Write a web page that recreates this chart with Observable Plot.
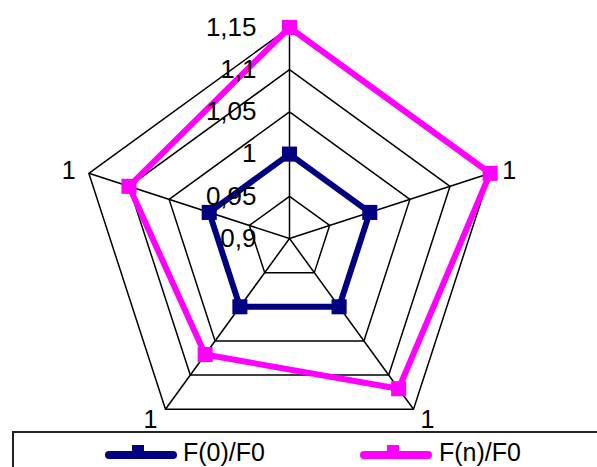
<!DOCTYPE html>
<html><head><meta charset="utf-8">
<script src="https://cdn.jsdelivr.net/npm/d3@7"></script>
<script src="https://cdn.jsdelivr.net/npm/@observablehq/plot@0.6"></script>
<style>
body{margin:0;width:597px;height:467px;overflow:hidden;background:#fff;font-family:"Liberation Sans",Arial,sans-serif;position:relative}
#chart{position:absolute;left:0;top:0}
#legend{position:absolute;left:12px;top:431px;width:620px;height:60px;border-top:2px solid #222;border-left:2px solid #222;}
.sw{position:absolute;top:445px}
.lt{position:absolute;top:440px;font-size:25px;line-height:25px;color:#000;white-space:nowrap}
</style></head><body>
<div id="chart"></div>
<div id="legend"></div>
<script>
// Data
const axes = ["", "1", "1", "1", "1"];            // clockwise from top
const ticks = [0.9, 0.95, 1, 1.05, 1.1, 1.15];
const tickLabels = ["0,9", "0,95", "1", "1,05", "1,1", "1,15"];
const seriesNames = ["F(0)/F0", "F(n)/F0"];
const f0Values = [1, 1, 1, 1, 1];
const fnValues = [1.15, 1.15, 1.12, 1.07, 1.10];
const seriesColors = ["#000080", "#ff00ff"];

// Styling / layout
const labelOffsets = [[0, 0], [19, -2], [14, 11], [-15, 11], [-20, -2]];
const W = 597, H = 432, R = 211, CX = 289, CY = 238;

const rmin = ticks[0], rmax = ticks[ticks.length - 1];
const rad = d3.scaleLinear().domain([rmin, rmax]).range([0, 1]);
const n = axes.length;
const ang = i => Math.PI / 2 - i * 2 * Math.PI / n;
const px = (v, i) => rad(v) * Math.cos(ang(i));
const py = (v, i) => rad(v) * Math.sin(ang(i));

const ringPts = ticks.slice(1).flatMap(t => d3.range(n + 1).map(k => ({t, i: k % n})));
const seriesData = [f0Values, fnValues];
const linePts = seriesData.flatMap((vals, s) => d3.range(n + 1).map(k => ({s: seriesNames[s], v: vals[k % n], i: k % n})));
const dotPts = seriesData.flatMap((vals, s) => vals.map((v, i) => ({s: seriesNames[s], v, i})));

const marks = [
  Plot.line(ringPts, {x: d => px(d.t, d.i), y: d => py(d.t, d.i), z: "t", stroke: "#000", strokeWidth: 1.5}),
  Plot.link(d3.range(n), {x1: () => 0, y1: () => 0, x2: i => px(rmax, i), y2: i => py(rmax, i), stroke: "#000", strokeWidth: 1.5}),
  Plot.line(linePts, {x: d => px(d.v, d.i), y: d => py(d.v, d.i), z: "s", stroke: "s", strokeWidth: 6, strokeLinejoin: "miter"}),
  Plot.dot(dotPts, {x: d => px(d.v, d.i), y: d => py(d.v, d.i), fill: "s", symbol: "square", r: 8.5, stroke: "none"}),
  Plot.text(ticks, {x: () => 0, y: t => rad(t), text: (t, k) => tickLabels[k], textAnchor: "end", dx: -33, fontSize: 26, fill: "#000"}),
  ...axes.map((a, i) => Plot.text([i], {x: j => px(rmax, j), y: j => py(rmax, j), text: j => axes[j], dx: labelOffsets[i][0], dy: labelOffsets[i][1], fontSize: 25, fill: "#000"}))
];

const chart = Plot.plot({
  width: W, height: H,
  marginTop: 0, marginBottom: 0, marginLeft: 0, marginRight: 0,
  x: {domain: [-CX / R, (W - CX) / R], axis: null},
  y: {domain: [-(H - CY) / R, CY / R], axis: null},
  color: {domain: seriesNames, range: seriesColors},
  style: {fontFamily: "'Liberation Sans', Arial, sans-serif", background: "#fff", overflow: "visible"},
  marks
});
document.getElementById("chart").appendChild(chart);

// Legend
const legendPos = [[105, 183], [360, 439]];
seriesNames.forEach((name, s) => {
  const [sx, tx] = legendPos[s];
  const ns = "http://www.w3.org/2000/svg";
  const sw = document.createElementNS(ns, "svg");
  sw.setAttribute("class", "sw"); sw.setAttribute("width", 74); sw.setAttribute("height", 16);
  sw.style.left = sx + "px";
  sw.innerHTML = `<line x1="4" x2="68" y1="10" y2="10" stroke="${seriesColors[s]}" stroke-width="8" stroke-linecap="round"/>` +
    `<rect x="27" y="0" width="12" height="12" fill="${seriesColors[s]}"/>`;
  document.body.appendChild(sw);
  const t = document.createElement("div");
  t.className = "lt"; t.style.left = tx + "px"; t.textContent = name;
  document.body.appendChild(t);
});
</script>
</body></html>
